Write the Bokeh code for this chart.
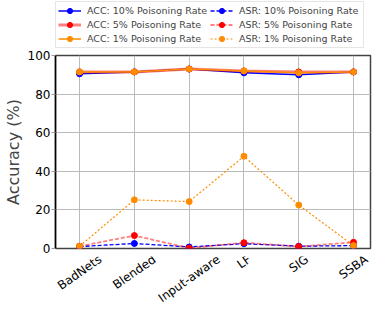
import math
from bokeh.plotting import figure
from bokeh.layouts import column
from bokeh.models import (Range1d, FixedTicker, Legend, LegendItem,
                          ColumnDataSource)
from bokeh.core.properties import value
from bokeh.embed import file_html
from bokeh.resources import INLINE

attacks = ["BadNets", "Blended", "Input-aware", "LF", "SIG", "SSBA"]
acc_10 = [90.5, 91.5, 93.0, 91.0, 90.0, 91.5]
acc_5 = [91.5, 91.5, 93.0, 92.0, 91.5, 91.5]
acc_1 = [91.5, 91.5, 93.0, 92.0, 91.0, 91.5]
asr_10 = [1.0, 2.6, 0.8, 2.5, 1.2, 1.5]
asr_5 = [1.2, 6.7, 0.2, 3.0, 1.0, 3.2]
asr_1 = [1.2, 25.2, 24.3, 47.8, 22.5, 1.5]
y_ticks = [0, 20, 40, 60, 80, 100]

FONT = "DejaVu Sans"
W = 372
LEFT, RIGHT = 50, 2
BT, BB = 7, 8        # chart top / bottom borders (room for "100" and "0")
FRAME_H = 193
T_H = 48             # legend strip
P_H = BT + FRAME_H + BB
Q_H = 306 - T_H - P_H
xs = list(range(len(attacks)))
X0, X1 = -0.44, 5.31

series = [
    ("ACC: 10% Poisoning Rate", acc_10, "#0000ff", 1.5, 1.0, "solid"),
    ("ACC: 5% Poisoning Rate", acc_5, "#ff0000", 3.0, 0.5, "solid"),
    ("ACC: 1% Poisoning Rate", acc_1, "#ff8c00", 1.5, 1.0, "solid"),
    ("ASR: 10% Poisoning Rate", asr_10, "#0000ff", 1.3, 1.0, "4 2"),
    ("ASR: 5% Poisoning Rate", asr_5, "#ff0000", 1.8, 0.5, "4 2"),
    ("ASR: 1% Poisoning Rate", asr_1, "#ff8c00", 1.2, 1.0, "2 2"),
]

xr = Range1d(X0, X1)

# ---------- main chart ----------
p = figure(width=W, height=P_H, output_backend="svg", toolbar_location=None,
           x_range=xr, y_range=Range1d(0, 100), x_axis_location=None,
           min_border_left=LEFT, min_border_right=RIGHT, min_border_top=BT,
           min_border_bottom=BB)
p.background_fill_color = "white"
p.border_fill_color = "white"
p.outline_line_color = "#444444"
p.outline_line_width = 1.5
p.xgrid.grid_line_color = "#bbbbbb"
p.ygrid.grid_line_color = "#bbbbbb"
p.xgrid.ticker = FixedTicker(ticks=xs)

p.yaxis.ticker = FixedTicker(ticks=y_ticks)
p.yaxis.major_label_text_font = FONT
p.yaxis.major_label_text_font_size = "12px"
p.yaxis.major_label_text_color = "black"
p.yaxis.major_tick_out = 4
p.yaxis.major_tick_in = 0
p.yaxis.minor_tick_line_color = None
p.yaxis.major_tick_line_color = "#999999"
p.yaxis.major_label_standoff = 1
p.yaxis.axis_line_color = "black"
p.yaxis.axis_line_width = 1.5
p.yaxis.axis_label = "Accuracy (%)"
p.yaxis.axis_label_text_font = FONT
p.yaxis.axis_label_text_font_size = "16px"
p.yaxis.axis_label_text_font_style = "normal"
p.yaxis.axis_label_standoff = 2

for label, vals, color, lw, alpha, dash in series:
    src = ColumnDataSource(dict(x=xs, y=vals))
    p.line("x", "y", source=src, line_color=color, line_width=lw,
           line_alpha=alpha, line_dash=dash)
    p.scatter("x", "y", source=src, size=6, fill_color=color,
              line_color=color, marker="circle")

# ---------- legend strip (same series, kept outside its visible range) ----
t = figure(width=W, height=T_H, output_backend="svg", toolbar_location=None,
           x_range=xr, y_range=Range1d(1000, 1001),
           x_axis_location=None, y_axis_location=None,
           min_border_left=LEFT, min_border_right=RIGHT, min_border_top=0,
           min_border_bottom=0)
t.grid.visible = False
t.outline_line_color = None
t.border_fill_color = "white"
t.background_fill_color = "white"
items = []
for label, vals, color, lw, alpha, dash in series:
    src = ColumnDataSource(dict(x=xs, y=vals))
    r1 = t.line("x", "y", source=src, line_color=color, line_width=lw,
                line_alpha=alpha, line_dash=dash)
    r2 = t.scatter("x", "y", source=src, size=6, fill_color=color,
                   line_color=color, marker="circle")
    items.append(LegendItem(label=label, renderers=[r1, r2]))
legend = Legend(items=items, ncols=2, location=(0, 0))
legend.label_text_font = FONT
legend.label_text_font_size = "9.5px"
legend.label_height = 13
legend.glyph_height = 13
legend.glyph_width = 23
legend.label_standoff = 6
legend.label_width = 122
legend.spacing = 1
legend.padding = 2
legend.margin = 0
legend.border_line_color = "#cccccc"
legend.border_line_width = 1
legend.background_fill_alpha = 0.9
t.add_layout(legend, "center")

# ---------- x tick labels strip ----------
q = figure(width=W, height=Q_H, output_backend="svg", toolbar_location=None,
           x_range=xr, y_range=Range1d(-Q_H, 0),
           x_axis_location=None, y_axis_location=None,
           min_border_left=LEFT, min_border_right=RIGHT, min_border_top=0,
           min_border_bottom=0)
q.grid.visible = False
q.outline_line_color = None
q.background_fill_color = "white"
q.border_fill_color = "white"

EM = {"B": .686, "a": .613, "d": .635, "N": .748, "e": .615, "t": .392,
      "s": .521, "l": .278, "n": .634, "I": .295, "p": .635, "u": .634,
      "-": .361, "w": .818, "r": .411, "L": .557, "F": .575, "S": .635,
      "G": .775, "A": .684}
fs = 12
theta = math.radians(35)
ys = []
for s in attacks:
    L = sum(EM.get(c, 0.6) for c in s) * fs
    h = 11
    ys.append(-((L * math.sin(theta) + h * math.cos(theta)) / 2) + 3)
q.text(x=xs, y=ys, text=attacks, angle=35, angle_units="deg",
       text_align="center", text_baseline="middle",
       text_font=value(FONT), text_font_size="12px", text_color="black")

layout = column(t, p, q, spacing=0)
open("out.html", "w").write(file_html(layout, INLINE))
